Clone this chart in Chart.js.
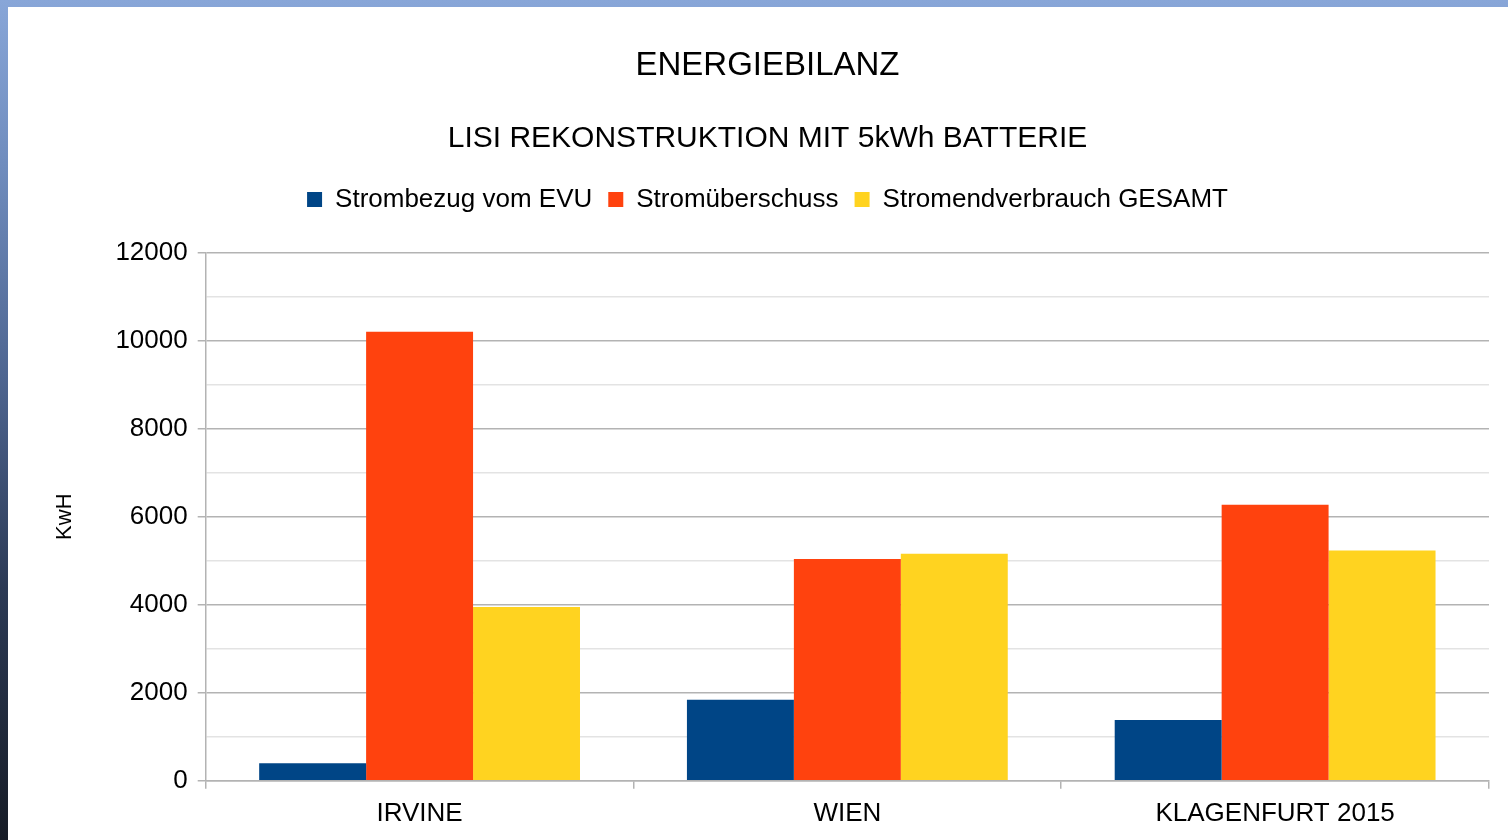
<!DOCTYPE html>
<html>
<head>
<meta charset="utf-8">
<script src="https://cdn.jsdelivr.net/npm/chart.js@4.4.0/dist/chart.umd.min.js"></script>
<style>
  html, body { margin: 0; padding: 0; }
  body {
    width: 1508px; height: 840px; overflow: hidden;
    background: linear-gradient(to bottom, #88a6d8 0%, #6f8cbd 20%, #4e6590 45%, #2c3a55 70%, #171c26 100%);
  }
  #box { position: absolute; left: 8px; top: 7px; width: 1500px; height: 833px; background: #fff; }
</style>
</head>
<body>
<div id="box"><canvas id="chart" width="1500" height="833"></canvas></div>
<script>
// data
let cities = ['IRVINE', 'WIEN', 'KLAGENFURT 2015'];
let bezugEVU = [400, 1840, 1380];          // Strombezug vom EVU
let ueberschuss = [10200, 5040, 6270];     // Stromüberschuss
let verbrauchGesamt = [3950, 5160, 5230];  // Stromendverbrauch GESAMT
let seriesNames = ['Strombezug vom EVU', 'Stromüberschuss', 'Stromendverbrauch GESAMT'];
let seriesColors = ['#004586', '#ff420e', '#ffd320'];

const FONT = "'Liberation Sans', Arial, sans-serif";
Chart.defaults.font.family = FONT;
Chart.defaults.color = '#000';

// extra room under the legend
const legendGap = {
    id: 'legendGap',
    beforeInit(chart) {
        const origFit = chart.legend.fit;
        chart.legend.fit = function () {
            origFit.bind(chart.legend)();
            this.height += 30;
        };
    }
};

let data = {
    labels: cities,
    datasets: [bezugEVU, ueberschuss, verbrauchGesamt].map((vals, i) => ({
        label: seriesNames[i],
        data: vals,
        backgroundColor: seriesColors[i],
        borderWidth: 0,
        categoryPercentage: 0.75,
        barPercentage: 1.0
    }))
};

let config = {
    type: 'bar',
    data: data,
    plugins: [legendGap],
    options: {
        responsive: false,
        animation: false,
        layout: { padding: { left: 38, right: 19, top: 0, bottom: 2 } },
        plugins: {
            title: {
                display: true,
                text: 'ENERGIEBILANZ',
                font: { size: 33, weight: 'normal' },
                padding: { top: 39, bottom: 18 }
            },
            subtitle: {
                display: true,
                text: 'LISI REKONSTRUKTION MIT 5kWh BATTERIE',
                font: { size: 30, weight: 'normal' },
                padding: { top: 17, bottom: 14 }
            },
            legend: {
                position: 'top',
                labels: {
                    font: { size: 26 },
                    boxWidth: 15,
                    boxHeight: 15,
                    padding: 16
                }
            },
            tooltip: { enabled: false }
        },
        scales: {
            x: {
                grid: {
                    offset: true,
                    drawOnChartArea: true,
                    color: ctx => ctx.index === cities.length ? '#b3b3b3' : 'rgba(0,0,0,0)',
                    tickColor: '#b3b3b3',
                    tickLength: 8,
                    lineWidth: 1.5
                },
                border: { color: '#b3b3b3', width: 1.5 },
                ticks: { font: { size: 26 }, padding: 9, maxRotation: 0 }
            },
            y: {
                min: 0,
                max: 12000,
                title: {
                    display: true,
                    text: 'KwH',
                    font: { size: 22 },
                    padding: { top: 6, bottom: 27 }
                },
                ticks: {
                    stepSize: 1000,
                    font: { size: 26 },
                    padding: 10,
                    callback: v => v % 2000 === 0 ? v : ''
                },
                grid: {
                    color: ctx => (ctx.tick && ctx.tick.value % 2000 === 0) ? '#b3b3b3' : '#e3e3e3',
                    tickColor: ctx => (ctx.tick && ctx.tick.value % 2000 === 0) ? '#b3b3b3' : 'rgba(0,0,0,0)',
                    tickLength: 8,
                    lineWidth: 1.5
                },
                border: { color: '#b3b3b3', width: 1.5 }
            }
        }
    }
};

let energyChart = new Chart(document.getElementById('chart'), config);
</script>
</body>
</html>
